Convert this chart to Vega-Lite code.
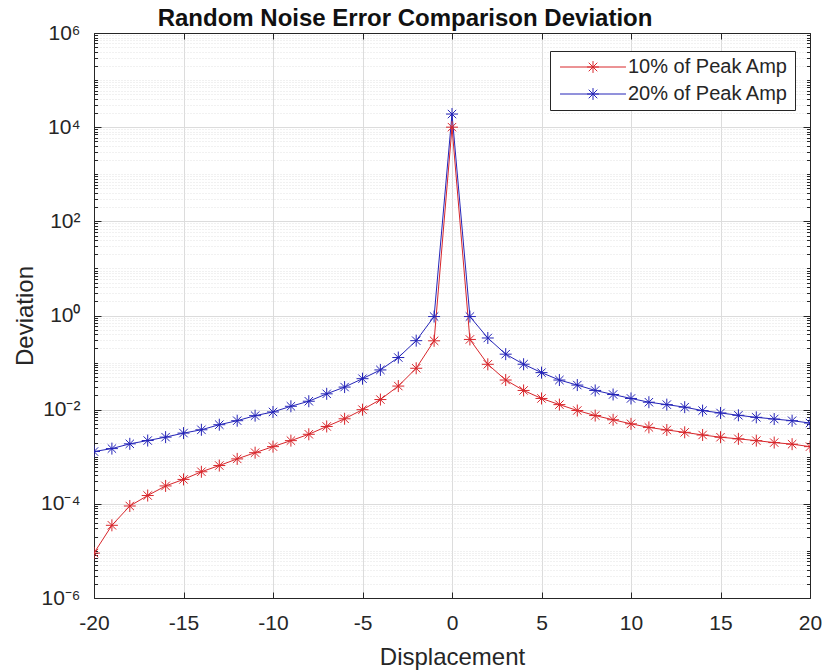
{
  "$schema": "https://vega.github.io/schema/vega-lite/v6.json",
  "width": 716,
  "height": 565,
  "autosize": "none",
  "padding": {"left": 94, "top": 33, "right": 13, "bottom": 74},
  "background": "white",
  "title": {
    "text": "Random Noise Error Comparison Deviation",
    "font": "Liberation Sans",
    "fontSize": 24,
    "fontWeight": "bold",
    "color": "#111111",
    "anchor": "middle",
    "dx": -47,
    "offset": -28,
    "baseline": "alphabetic"
  },
  "config": {
    "view": {"stroke": null},
    "font": "Liberation Sans",
    "axis": {
      "labelFont": "Liberation Sans",
      "titleFont": "Liberation Sans",
      "labelColor": "#262626",
      "titleColor": "#262626",
      "labelFontSize": 21,
      "titleFontSize": 24,
      "titleFontWeight": "normal",
      "domainColor": "#262626",
      "tickColor": "#262626",
      "domainWidth": 1,
      "tickWidth": 1
    }
  },
  "data": {
    "values": [
      {"x": -20, "dev": 9.0e-6, "series": "10% of Peak Amp"},
      {"x": -19, "dev": 3.5e-5, "series": "10% of Peak Amp"},
      {"x": -18, "dev": 9.0e-5, "series": "10% of Peak Amp"},
      {"x": -17, "dev": 1.5e-4, "series": "10% of Peak Amp"},
      {"x": -16, "dev": 2.4e-4, "series": "10% of Peak Amp"},
      {"x": -15, "dev": 3.3e-4, "series": "10% of Peak Amp"},
      {"x": -14, "dev": 4.8e-4, "series": "10% of Peak Amp"},
      {"x": -13, "dev": 6.5e-4, "series": "10% of Peak Amp"},
      {"x": -12, "dev": 9.0e-4, "series": "10% of Peak Amp"},
      {"x": -11, "dev": 1.22e-3, "series": "10% of Peak Amp"},
      {"x": -10, "dev": 1.64e-3, "series": "10% of Peak Amp"},
      {"x": -9, "dev": 2.2e-3, "series": "10% of Peak Amp"},
      {"x": -8, "dev": 3.0e-3, "series": "10% of Peak Amp"},
      {"x": -7, "dev": 4.4e-3, "series": "10% of Peak Amp"},
      {"x": -6, "dev": 6.4e-3, "series": "10% of Peak Amp"},
      {"x": -5, "dev": 0.0100, "series": "10% of Peak Amp"},
      {"x": -4, "dev": 0.0164, "series": "10% of Peak Amp"},
      {"x": -3, "dev": 0.0317, "series": "10% of Peak Amp"},
      {"x": -2, "dev": 0.0757, "series": "10% of Peak Amp"},
      {"x": -1, "dev": 0.29, "series": "10% of Peak Amp"},
      {"x": 0, "dev": 1.0e4, "series": "10% of Peak Amp"},
      {"x": 1, "dev": 0.31, "series": "10% of Peak Amp"},
      {"x": 2, "dev": 0.092, "series": "10% of Peak Amp"},
      {"x": 3, "dev": 0.0426, "series": "10% of Peak Amp"},
      {"x": 4, "dev": 0.0256, "series": "10% of Peak Amp"},
      {"x": 5, "dev": 0.0173, "series": "10% of Peak Amp"},
      {"x": 6, "dev": 0.0128, "series": "10% of Peak Amp"},
      {"x": 7, "dev": 0.0096, "series": "10% of Peak Amp"},
      {"x": 8, "dev": 0.0075, "series": "10% of Peak Amp"},
      {"x": 9, "dev": 0.0061, "series": "10% of Peak Amp"},
      {"x": 10, "dev": 0.0050, "series": "10% of Peak Amp"},
      {"x": 11, "dev": 0.0042, "series": "10% of Peak Amp"},
      {"x": 12, "dev": 0.0037, "series": "10% of Peak Amp"},
      {"x": 13, "dev": 0.0033, "series": "10% of Peak Amp"},
      {"x": 14, "dev": 0.0029, "series": "10% of Peak Amp"},
      {"x": 15, "dev": 0.0026, "series": "10% of Peak Amp"},
      {"x": 16, "dev": 0.0024, "series": "10% of Peak Amp"},
      {"x": 17, "dev": 0.0022, "series": "10% of Peak Amp"},
      {"x": 18, "dev": 0.0020, "series": "10% of Peak Amp"},
      {"x": 19, "dev": 0.00185, "series": "10% of Peak Amp"},
      {"x": 20, "dev": 0.00164, "series": "10% of Peak Amp"},
      {"x": -20, "dev": 1.29e-3, "series": "20% of Peak Amp"},
      {"x": -19, "dev": 1.49e-3, "series": "20% of Peak Amp"},
      {"x": -18, "dev": 1.88e-3, "series": "20% of Peak Amp"},
      {"x": -17, "dev": 2.21e-3, "series": "20% of Peak Amp"},
      {"x": -16, "dev": 2.61e-3, "series": "20% of Peak Amp"},
      {"x": -15, "dev": 3.18e-3, "series": "20% of Peak Amp"},
      {"x": -14, "dev": 3.74e-3, "series": "20% of Peak Amp"},
      {"x": -13, "dev": 4.79e-3, "series": "20% of Peak Amp"},
      {"x": -12, "dev": 5.83e-3, "series": "20% of Peak Amp"},
      {"x": -11, "dev": 7.46e-3, "series": "20% of Peak Amp"},
      {"x": -10, "dev": 8.94e-3, "series": "20% of Peak Amp"},
      {"x": -9, "dev": 0.0118, "series": "20% of Peak Amp"},
      {"x": -8, "dev": 0.0151, "series": "20% of Peak Amp"},
      {"x": -7, "dev": 0.0217, "series": "20% of Peak Amp"},
      {"x": -6, "dev": 0.0302, "series": "20% of Peak Amp"},
      {"x": -5, "dev": 0.0455, "series": "20% of Peak Amp"},
      {"x": -4, "dev": 0.0698, "series": "20% of Peak Amp"},
      {"x": -3, "dev": 0.128, "series": "20% of Peak Amp"},
      {"x": -2, "dev": 0.292, "series": "20% of Peak Amp"},
      {"x": -1, "dev": 0.95, "series": "20% of Peak Amp"},
      {"x": 0, "dev": 1.9e4, "series": "20% of Peak Amp"},
      {"x": 1, "dev": 0.95, "series": "20% of Peak Amp"},
      {"x": 2, "dev": 0.333, "series": "20% of Peak Amp"},
      {"x": 3, "dev": 0.151, "series": "20% of Peak Amp"},
      {"x": 4, "dev": 0.0923, "series": "20% of Peak Amp"},
      {"x": 5, "dev": 0.0612, "series": "20% of Peak Amp"},
      {"x": 6, "dev": 0.0426, "series": "20% of Peak Amp"},
      {"x": 7, "dev": 0.0333, "series": "20% of Peak Amp"},
      {"x": 8, "dev": 0.0256, "series": "20% of Peak Amp"},
      {"x": 9, "dev": 0.0210, "series": "20% of Peak Amp"},
      {"x": 10, "dev": 0.0173, "series": "20% of Peak Amp"},
      {"x": 11, "dev": 0.0144, "series": "20% of Peak Amp"},
      {"x": 12, "dev": 0.0128, "series": "20% of Peak Amp"},
      {"x": 13, "dev": 0.0113, "series": "20% of Peak Amp"},
      {"x": 14, "dev": 0.00955, "series": "20% of Peak Amp"},
      {"x": 15, "dev": 0.00851, "series": "20% of Peak Amp"},
      {"x": 16, "dev": 0.00759, "series": "20% of Peak Amp"},
      {"x": 17, "dev": 0.00687, "series": "20% of Peak Amp"},
      {"x": 18, "dev": 0.00633, "series": "20% of Peak Amp"},
      {"x": 19, "dev": 0.00583, "series": "20% of Peak Amp"},
      {"x": 20, "dev": 0.00520, "series": "20% of Peak Amp"}
    ]
  },
  "resolve": {"axis": {"x": "independent", "y": "independent"}},
  "layer": [
    {
      "mark": {"type": "line", "strokeWidth": 1, "clip": true},
      "encoding": {
        "x": {
          "field": "x", "type": "quantitative",
          "scale": {"domain": [-20, 20], "nice": false, "zero": false},
          "axis": {
            "orient": "bottom",
            "title": "Displacement",
            "values": [-20, -15, -10, -5, 0, 5, 10, 15, 20],
            "labelExpr": "toString(datum.value)",
            "grid": true, "gridColor": "#dcdcdc", "gridWidth": 1,
            "tickSize": -6,
            "labelPadding": 20,
            "labelFlush": false,
            "titlePadding": 12
          }
        },
        "y": {
          "field": "dev", "type": "quantitative",
          "scale": {"type": "log", "domain": [1e-6, 1e6], "nice": false},
          "axis": {
            "orient": "left",
            "title": "Deviation",
            "values": [1e-6, 1e-4, 0.01, 1, 100, 1e4, 1e6, 2e-6, 3e-6, 4e-6, 5e-6, 6e-6, 7e-6, 8e-6, 9e-6, 1e-5, 2e-5, 3e-5, 4e-5, 5e-5, 6e-5, 7e-5, 8e-5, 9e-5, 2e-4, 3e-4, 4e-4, 5e-4, 6e-4, 7e-4, 8e-4, 9e-4, 1e-3, 2e-3, 3e-3, 4e-3, 5e-3, 6e-3, 7e-3, 8e-3, 9e-3, 0.02, 0.03, 0.04, 0.05, 0.06, 0.07, 0.08, 0.09, 0.1, 0.2, 0.3, 0.4, 0.5, 0.6, 0.7, 0.8, 0.9, 2, 3, 4, 5, 6, 7, 8, 9, 10, 20, 30, 40, 50, 60, 70, 80, 90, 200, 300, 400, 500, 600, 700, 800, 900, 1000, 2000, 3000, 4000, 5000, 6000, 7000, 8000, 9000, 20000, 30000, 40000, 50000, 60000, 70000, 80000, 90000, 100000, 200000, 300000, 400000, 500000, 600000, 700000, 800000, 900000],
            "labelExpr": "abs(log(datum.value)/LN10 - round(log(datum.value)/LN10)) < 0.01 && round(log(datum.value)/LN10) % 2 == 0 ? '10' + (datum.value > 1e5 ? '⁶' : datum.value > 1e3 ? '⁴' : datum.value > 10 ? '²' : datum.value > 0.1 ? '⁰' : datum.value > 1e-3 ? '⁻²' : datum.value > 1e-5 ? '⁻⁴' : '⁻⁶') : ''",
            "labelOverlap": false,
            "labelFlush": false,
            "grid": true,
            "gridColor": {"condition": {"test": "abs(log(datum.value)/LN10 - round(log(datum.value)/LN10)) < 0.01 && round(log(datum.value)/LN10) % 2 == 0", "value": "#dcdcdc"}, "value": "#e2e2e2"},
            "gridDash": {"condition": {"test": "abs(log(datum.value)/LN10 - round(log(datum.value)/LN10)) < 0.01 && round(log(datum.value)/LN10) % 2 == 0", "value": []}, "value": [1, 2]},
            "tickSize": {"condition": {"test": "abs(log(datum.value)/LN10 - round(log(datum.value)/LN10)) < 0.01 && round(log(datum.value)/LN10) % 2 == 0", "value": -7}, "value": -3.5},
            "labelPadding": 21,
            "titlePadding": 3
          }
        },
        "color": {
          "field": "series", "type": "nominal",
          "scale": {"domain": ["10% of Peak Amp", "20% of Peak Amp"], "range": ["#d8262b", "#2424b8"]},
          "legend": {
            "title": null,
            "orient": "none",
            "legendX": 456,
            "legendY": 18,
            "fillColor": "white",
            "strokeColor": "#262626",
            "cornerRadius": 0,
            "padding": 6,
            "symbolType": "M-5,0H5M0,-0.9V0.9M-0.9,0H0.9M-0.65,-0.65L0.65,0.65M-0.65,0.65L0.65,-0.65",
            "symbolSize": 174,
            "symbolOffset": 27,
            "symbolStrokeWidth": 1,
            "symbolFillColor": "transparent",
            "labelFont": "Liberation Sans",
            "labelFontSize": 20,
            "labelLimit": 300,
            "labelColor": "#262626",
            "labelOffset": 25,
            "rowPadding": 7
          }
        }
      }
    },
    {
      "mark": {"type": "point", "shape": "M0,-1V1M-1,0H1M-0.7,-0.7L0.7,0.7M-0.7,0.7L0.7,-0.7", "size": 144, "filled": false, "strokeWidth": 1, "opacity": 1, "clip": true},
      "encoding": {
        "x": {
          "field": "x", "type": "quantitative",
          "axis": {
            "orient": "top", "title": null, "labels": false, "grid": false,
            "values": [-20, -15, -10, -5, 0, 5, 10, 15, 20],
            "tickSize": -6
          }
        },
        "y": {
          "field": "dev", "type": "quantitative",
          "axis": {
            "orient": "right", "title": null, "labels": false, "grid": false,
            "values": [1e-6, 1e-4, 0.01, 1, 100, 1e4, 1e6, 2e-6, 3e-6, 4e-6, 5e-6, 6e-6, 7e-6, 8e-6, 9e-6, 1e-5, 2e-5, 3e-5, 4e-5, 5e-5, 6e-5, 7e-5, 8e-5, 9e-5, 2e-4, 3e-4, 4e-4, 5e-4, 6e-4, 7e-4, 8e-4, 9e-4, 1e-3, 2e-3, 3e-3, 4e-3, 5e-3, 6e-3, 7e-3, 8e-3, 9e-3, 0.02, 0.03, 0.04, 0.05, 0.06, 0.07, 0.08, 0.09, 0.1, 0.2, 0.3, 0.4, 0.5, 0.6, 0.7, 0.8, 0.9, 2, 3, 4, 5, 6, 7, 8, 9, 10, 20, 30, 40, 50, 60, 70, 80, 90, 200, 300, 400, 500, 600, 700, 800, 900, 1000, 2000, 3000, 4000, 5000, 6000, 7000, 8000, 9000, 20000, 30000, 40000, 50000, 60000, 70000, 80000, 90000, 100000, 200000, 300000, 400000, 500000, 600000, 700000, 800000, 900000],
            "tickSize": {"condition": {"test": "abs(log(datum.value)/LN10 - round(log(datum.value)/LN10)) < 0.01 && round(log(datum.value)/LN10) % 2 == 0", "value": -7}, "value": -3.5}
          }
        },
        "color": {"field": "series", "type": "nominal", "legend": null}
      }
    }
  ]
}
